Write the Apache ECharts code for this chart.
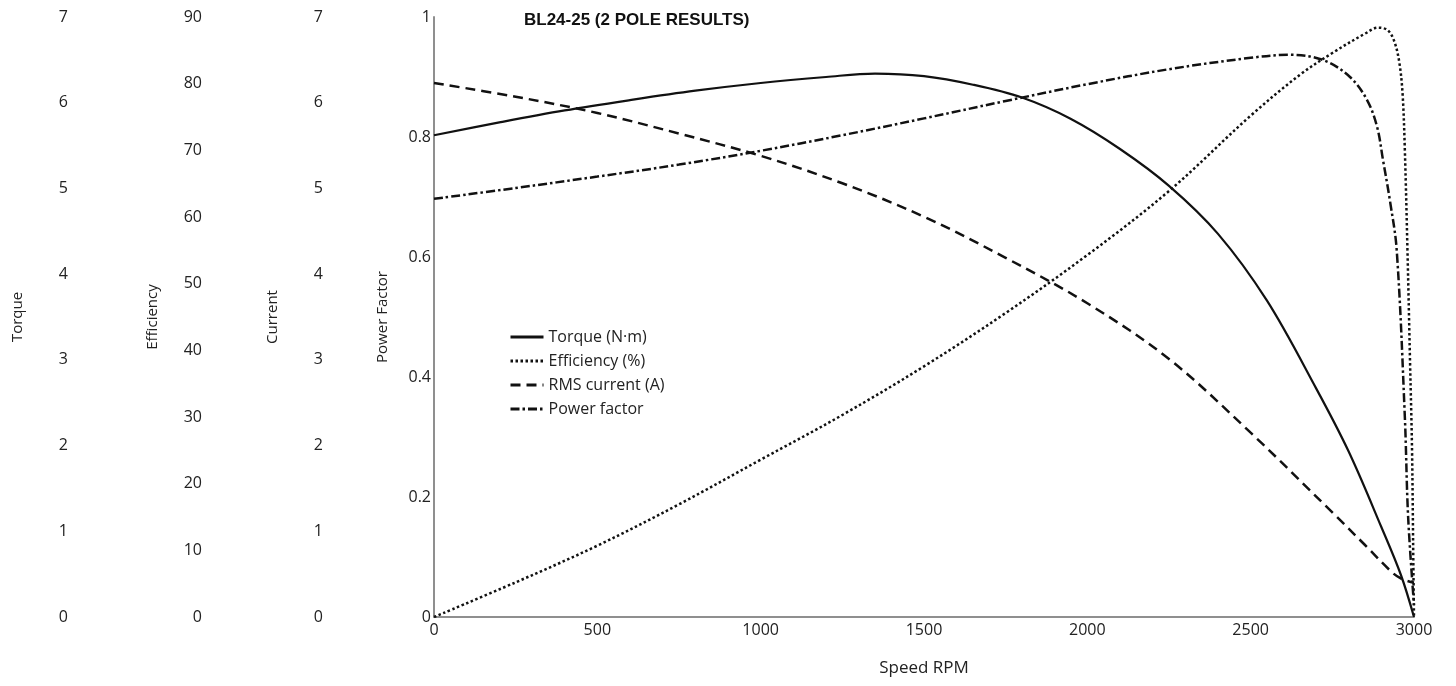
<!DOCTYPE html>
<html>
<head>
<meta charset="utf-8">
<title>BL24-25 (2 POLE RESULTS)</title>
<script src="https://cdn.jsdelivr.net/npm/echarts@6/dist/echarts.min.js"></script>
<style>
  html, body { margin: 0; padding: 0; background: #ffffff; }
  #chart { width: 1456px; height: 686px; }
</style>
</head>
<body>
<div id="chart"></div>
<script>
// Motor performance curves against shaft speed
const titleText = 'BL24-25 (2 POLE RESULTS)';

// Torque (N·m)
const torqueRpm = [0, 200, 400, 600, 800, 1000, 1200, 1350, 1500, 1650, 1800, 1950, 2100, 2250, 2400, 2550, 2700, 2800, 2900, 2960, 3000];
const torqueVal = [5.62, 5.77, 5.91, 6.03, 6.14, 6.23, 6.30, 6.34, 6.31, 6.21, 6.06, 5.81, 5.46, 5.03, 4.47, 3.69, 2.67, 1.93, 1.05, 0.49, 0];

// Efficiency (%)
const effRpm = [0, 250, 500, 750, 1000, 1250, 1500, 1750, 2000, 2250, 2500, 2650, 2750, 2850, 2890, 2920, 2940, 2955, 2965, 2972, 2980, 2988, 2994, 2998, 3000];
const effVal = [0, 5.2, 10.7, 16.9, 23.6, 30.3, 37.6, 45.6, 54.3, 63.9, 75.2, 81.3, 84.6, 87.5, 88.4, 88.0, 86.3, 83.2, 78.5, 70.0, 55.0, 38.0, 25.0, 8.0, 0];

// RMS current (A)
const currentRpm = [0, 250, 500, 750, 1000, 1250, 1500, 1750, 2000, 2250, 2500, 2750, 2850, 2936, 2965, 3000];
const currentVal = [6.23, 6.07, 5.88, 5.64, 5.38, 5.06, 4.67, 4.19, 3.66, 3.01, 2.15, 1.22, 0.84, 0.51, 0.44, 0.40];

// Power factor
const pfRpm = [0, 250, 500, 750, 1000, 1250, 1500, 1750, 2000, 2250, 2500, 2620, 2723, 2804, 2856, 2887, 2905, 2926, 2947, 2972, 2982, 3000];
const pfVal = [0.697, 0.715, 0.734, 0.754, 0.777, 0.803, 0.831, 0.860, 0.888, 0.913, 0.932, 0.937, 0.928, 0.900, 0.862, 0.817, 0.762, 0.695, 0.612, 0.333, 0.167, 0.02];

const xTicks = { min: 0, max: 3000, interval: 500 };

function pairs(xs, ys) {
  return xs.map((x, i) => [x, ys[i]]);
}

const FONT = '"Open Sans", "Noto Sans", sans-serif';
const TEXT = '#222222';
const AXIS_GREY = '#8f8f8f';
const INK = '#111111';

function sideAxis(name, min, max, interval, offset, gap) {
  return {
    type: 'value',
    name: name,
    position: 'left',
    offset: offset,
    min: min,
    max: max,
    interval: interval,
    nameLocation: 'middle',
    nameGap: gap,
    nameTextStyle: { fontFamily: FONT, fontSize: 15, color: TEXT },
    axisLine: { show: false },
    axisTick: { show: false },
    splitLine: { show: false },
    axisLabel: { fontFamily: FONT, fontSize: 16, color: TEXT, margin: 8 }
  };
}

const pfAxis = {
  type: 'value',
  name: 'Power Factor',
  position: 'left',
  min: 0,
  max: 1,
  interval: 0.2,
  nameLocation: 'middle',
  nameGap: 44,
  nameTextStyle: { fontFamily: FONT, fontSize: 15, color: TEXT },
  axisLine: { show: true, lineStyle: { color: AXIS_GREY, width: 2 } },
  axisTick: { show: false },
  splitLine: { show: false },
  axisLabel: { fontFamily: FONT, fontSize: 16, color: TEXT, margin: 3 }
};

function curve(name, axisIndex, xs, ys, width, dash) {
  return {
    name: name,
    type: 'line',
    yAxisIndex: axisIndex,
    data: pairs(xs, ys),
    smooth: 0.35,
    symbol: 'none',
    lineStyle: { color: INK, width: width, type: dash },
    itemStyle: { color: INK }
  };
}

const chart = echarts.init(document.getElementById('chart'), null, { renderer: 'canvas' });

chart.setOption({
  backgroundColor: '#ffffff',
  animation: false,
  title: {
    text: titleText,
    left: 519,
    top: 7,
    textStyle: { fontFamily: '"Liberation Sans", Arial, sans-serif', fontWeight: 'bold', fontSize: 17, color: '#111111' }
  },
  grid: { left: 434, right: 42, top: 17, bottom: 69, containLabel: false },
  legend: {
    orient: 'vertical',
    left: 504,
    top: 324,
    itemWidth: 33,
    itemHeight: 14,
    itemGap: 8,
    itemStyle: { opacity: 0 },
    lineStyle: { width: 3 },
    textStyle: { fontFamily: FONT, fontSize: 16, color: TEXT },
    data: ['Torque (N·m)', 'Efficiency (%)', 'RMS current (A)', 'Power factor']
  },
  xAxis: {
    type: 'value',
    name: 'Speed RPM',
    nameLocation: 'middle',
    nameGap: 43,
    nameTextStyle: { fontFamily: FONT, fontSize: 17, color: TEXT },
    min: xTicks.min,
    max: xTicks.max,
    interval: xTicks.interval,
    axisLine: { show: true, lineStyle: { color: AXIS_GREY, width: 2 } },
    axisTick: { show: false },
    splitLine: { show: false },
    axisLabel: { fontFamily: FONT, fontSize: 16, color: TEXT, margin: 5, formatter: (v) => String(v) }
  },
  yAxis: [
    sideAxis('Torque', 0, 7, 1, 358, 51),
    sideAxis('Efficiency', 0, 90, 10, 224, 50),
    sideAxis('Current', 0, 7, 1, 103, 51),
    pfAxis
  ],
  series: [
    curve('Torque (N·m)', 0, torqueRpm, torqueVal, 2.2, 'solid'),
    curve('Efficiency (%)', 1, effRpm, effVal, 2.5, [2.5, 2.5]),
    curve('RMS current (A)', 2, currentRpm, currentVal, 2.5, [10, 6]),
    curve('Power factor', 3, pfRpm, pfVal, 2.5, [9, 3, 2.5, 3])
  ]
});
</script>
</body>
</html>
